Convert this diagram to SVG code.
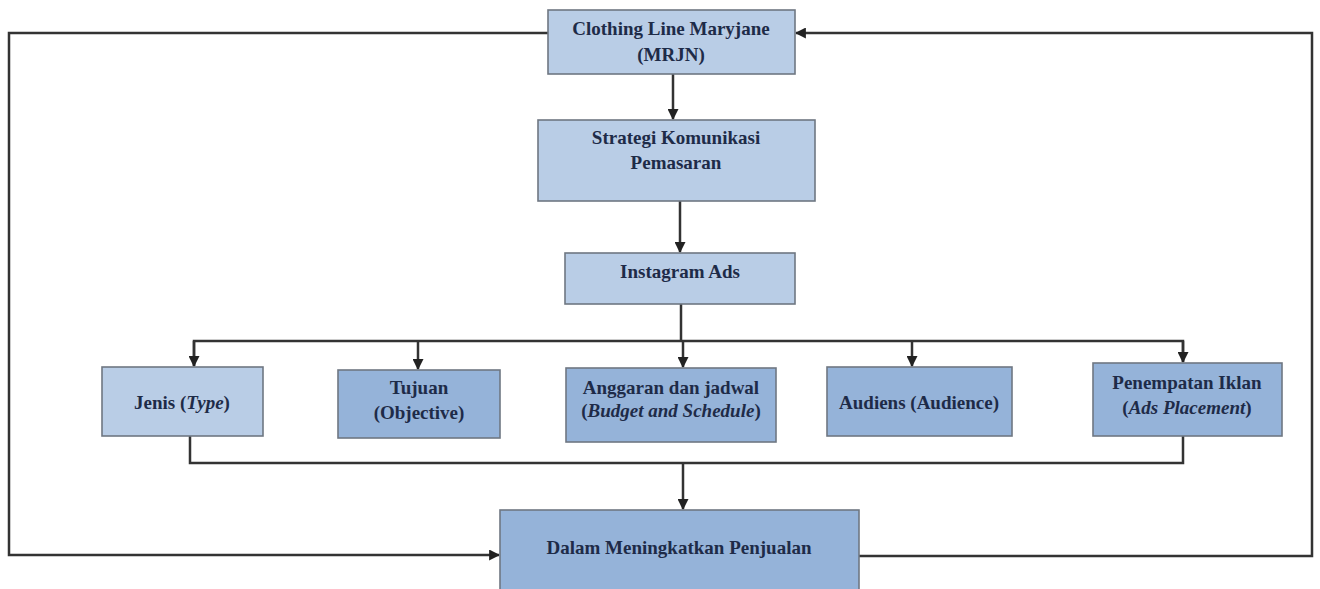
<svg xmlns="http://www.w3.org/2000/svg" width="1320" height="589" viewBox="0 0 1320 589">
<style>
.box{stroke:#6f7782;stroke-width:1.6}
.light{fill:#b9cde6}
.dark{fill:#95b3d9}
.t{font-family:"Liberation Serif","Times New Roman",serif;font-weight:bold;font-size:19px;fill:#1e2b48;text-anchor:middle}
.i{font-style:italic}
.c{fill:none;stroke:#333;stroke-width:2.5}
</style>
<defs>
<marker id="ah" viewBox="0 0 10 10" refX="9" refY="5" markerWidth="4.4" markerHeight="4.4" orient="auto" markerUnits="strokeWidth">
<path d="M0,0 L10,5 L0,10 z" fill="#222"/>
</marker>
</defs>
<rect width="1320" height="589" fill="#fff"/>
<g id="connectors">
<path class="c" d="M548,33 H9 V555 H499" marker-end="url(#ah)"/>
<path class="c" d="M859,556 H1312 V33 H796" marker-end="url(#ah)"/>
<path class="c" d="M673,74 V119" marker-end="url(#ah)"/>
<path class="c" d="M680,201 V252" marker-end="url(#ah)"/>
<path class="c" d="M681,304 V341"/>
<path class="c" d="M194,366 V341 H1183 V362"/>
<path class="c" d="M194,341 V366" marker-end="url(#ah)"/>
<path class="c" d="M418,341 V369" marker-end="url(#ah)"/>
<path class="c" d="M683,341 V367" marker-end="url(#ah)"/>
<path class="c" d="M912,341 V366" marker-end="url(#ah)"/>
<path class="c" d="M1183,341 V362" marker-end="url(#ah)"/>
<path class="c" d="M190,436 V463 H1183 V436"/>
<path class="c" d="M683,463 V509" marker-end="url(#ah)"/>
</g>
<g id="clothing">
<rect class="box light" x="548" y="10" width="247" height="64"/>
<text class="t" x="671" y="35">Clothing Line Maryjane</text>
<text class="t" x="671" y="61">(MRJN)</text>
</g>
<g id="strategi">
<rect class="box light" x="538" y="120" width="277" height="81"/>
<text class="t" x="676" y="144">Strategi Komunikasi</text>
<text class="t" x="676" y="169">Pemasaran</text>
</g>
<g id="instagram">
<rect class="box light" x="565" y="253" width="230" height="51"/>
<text class="t" x="680" y="278">Instagram Ads</text>
</g>
<g id="jenis">
<rect class="box light" x="102" y="367" width="161" height="69"/>
<text class="t" x="182" y="409">Jenis (<tspan class="i">Type</tspan>)</text>
</g>
<g id="tujuan">
<rect class="box dark" x="338" y="370" width="162" height="68"/>
<text class="t" x="419" y="394">Tujuan</text>
<text class="t" x="419" y="419">(Objective)</text>
</g>
<g id="anggaran">
<rect class="box dark" x="566" y="368" width="210" height="74"/>
<text class="t" x="671" y="394">Anggaran dan jadwal</text>
<text class="t" x="671" y="417">(<tspan class="i">Budget and Schedule</tspan>)</text>
</g>
<g id="audiens">
<rect class="box dark" x="827" y="367" width="185" height="69"/>
<text class="t" x="919" y="409">Audiens (Audience)</text>
</g>
<g id="penempatan">
<rect class="box dark" x="1093" y="363" width="189" height="73"/>
<text class="t" x="1187" y="389">Penempatan Iklan</text>
<text class="t" x="1187" y="414">(<tspan class="i">Ads Placement</tspan>)</text>
</g>
<g id="dalam">
<rect class="box dark" x="500" y="510" width="359" height="85"/>
<text class="t" x="679" y="554">Dalam Meningkatkan Penjualan</text>
</g>
</svg>
